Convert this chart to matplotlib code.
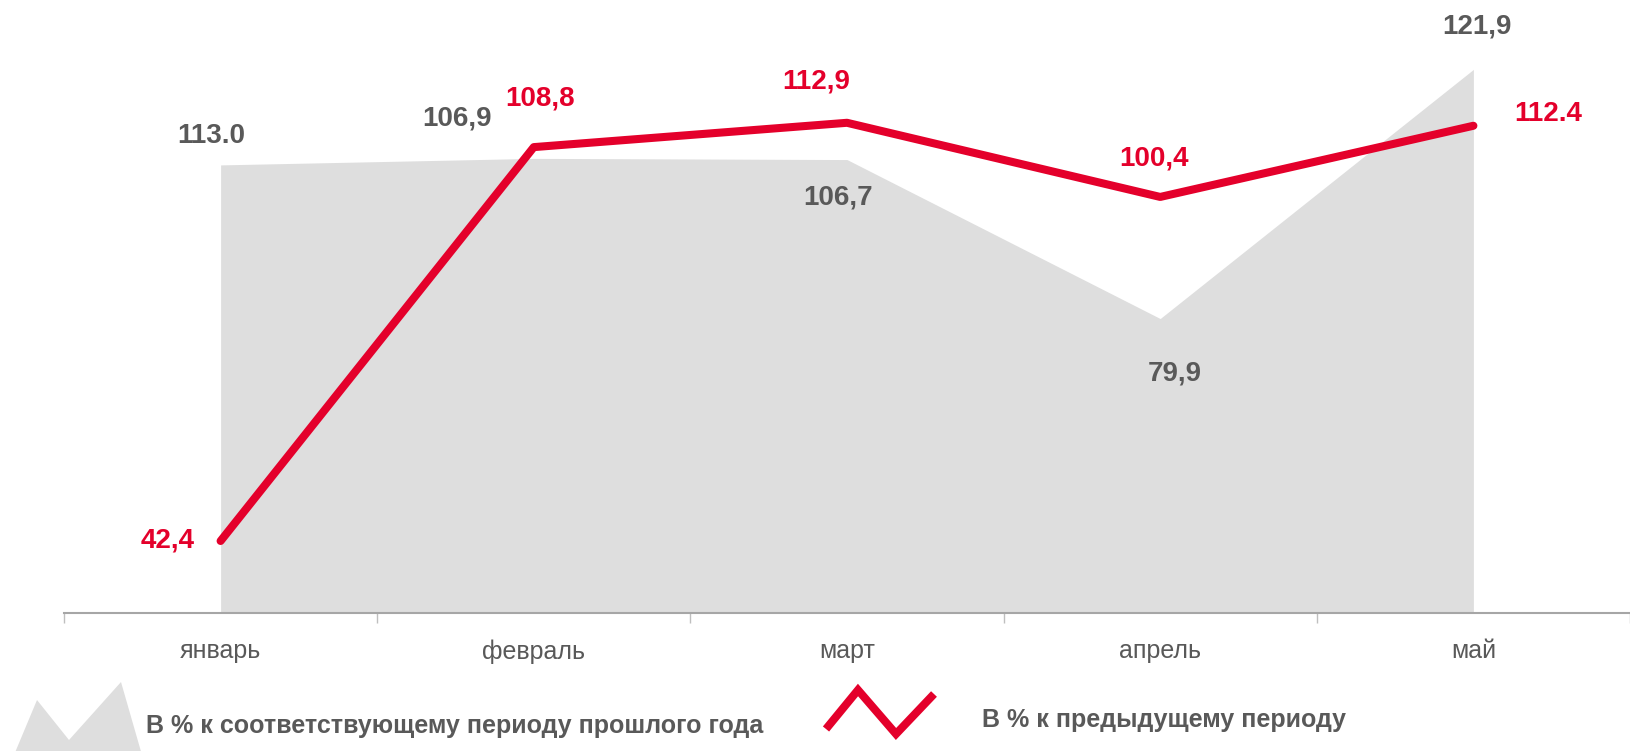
import matplotlib.pyplot as plt
from matplotlib.patches import Polygon
from matplotlib.lines import Line2D

months = ['январь', 'февраль', 'март', 'апрель', 'май']

# previous-period change (red line)
prev_period = [42.4, 108.8, 112.9, 100.4, 112.4]
prev_labels = ['42,4', '108,8', '112,9', '100,4', '112.4']

# same period last year (grey area); January is drawn lower than its label
last_year = [105.8, 106.9, 106.7, 79.9, 121.9]
last_year_labels = ['113.0', '106,9', '106,7', '79,9', '121,9']

RED = '#e4002b'
GREY_TXT = '#595959'
AREA = '#dedede'

plt.rcParams['font.family'] = ['Liberation Sans', 'DejaVu Sans']

W, H = 1630, 751
fig = plt.figure(figsize=(W / 100, H / 100), dpi=100)
ax = fig.add_axes([64 / W, (H - 613) / H, 1 - 64 / W, 613 / H])

x = list(range(len(months)))
ymin, ymax = 30.26, 133.6

ax.fill_between(x, last_year, ymin - 5, color=AREA, lw=0, zorder=1)
ax.plot(x, prev_period, color=RED, lw=5.8, solid_capstyle='round',
        solid_joinstyle='round', zorder=3)

ax.set_xlim(-0.5, 4.47)
ax.set_ylim(ymin, ymax)

for s in ['top', 'right', 'left']:
    ax.spines[s].set_visible(False)
ax.spines['bottom'].set_color('#a6a6a6')
ax.spines['bottom'].set_linewidth(1.5)
ax.spines['bottom'].set_zorder(2)
ax.set_yticks([])

ax.set_xticks(x)
ax.set_xticklabels(months, fontsize=18, color=GREY_TXT)
ax.tick_params(axis='x', which='major', length=0, pad=19)
ax.set_xticks([i - 0.5 for i in range(len(months) + 1)], minor=True)
ax.tick_params(axis='x', which='minor', length=7, width=1, color='#bfbfbf')

# label offsets in pixels from each point
grey_off = [(-9, 29), (-77, 40), (-9, -38), (15, -55), (4, 43)]
red_off = [(-53, 0), (6, 49), (-31, 41), (-6, 38), (75, 12)]

for i in x:
    ax.annotate(last_year_labels[i], (i, last_year[i]), xytext=grey_off[i],
                textcoords='offset pixels', ha='center', va='center',
                fontsize=20, fontweight='bold', color=GREY_TXT, zorder=4)
    ax.annotate(prev_labels[i], (i, prev_period[i]), xytext=red_off[i],
                textcoords='offset pixels', ha='center', va='center',
                fontsize=20, fontweight='bold', color=RED, zorder=4)

# legend, drawn in figure pixels
def fp(px, py):
    return (px / W, 1 - py / H)

mountain = [fp(14, 755), fp(37, 700), fp(69, 740), fp(121, 682), fp(142, 755)]
fig.patches.append(Polygon(mountain, closed=True, transform=fig.transFigure,
                           facecolor=AREA, edgecolor='none'))
fig.text(146 / W, 1 - 726 / H, 'В % к соответствующему периоду прошлого года',
         fontsize=18, fontweight='bold', color=GREY_TXT, va='center', ha='left')

zz = [fp(826, 729), fp(858, 690), fp(896, 734), fp(934, 694)]
fig.lines.append(Line2D([p[0] for p in zz], [p[1] for p in zz],
                        transform=fig.transFigure, color=RED, lw=5.8,
                        solid_capstyle='butt', solid_joinstyle='miter'))
fig.text(982 / W, 1 - 720 / H, 'В % к предыдущему периоду',
         fontsize=18, fontweight='bold', color=GREY_TXT, va='center', ha='left')

fig.savefig('out.png', dpi=100)
